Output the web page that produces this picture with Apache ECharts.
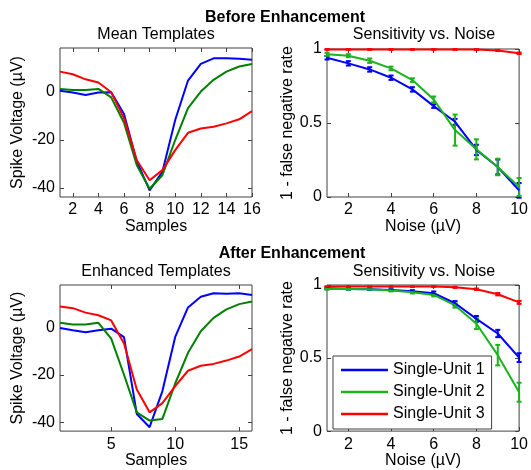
<!DOCTYPE html>
<html>
<head>
<meta charset="utf-8">
<script src="https://cdn.jsdelivr.net/npm/echarts@6/dist/echarts.min.js"></script>
<style>html,body{margin:0;padding:0;background:#fff;}#c{width:531px;height:470px;}</style>
</head>
<body>
<div id="c"></div>
<script>
// ---- data ----
const samples = [1,2,3,4,5,6,7,8,9,10,11,12,13,14,15,16];
const meanU1 = [0.4,-0.4,-1.4,-0.4,-0.3,-9.3,-29,-41,-33.3,-11.8,4.6,11.5,13.8,13.8,13.6,13.2];
const meanU2 = [1.1,0.7,0.7,1.1,-2.4,-12.9,-30.6,-40.3,-34.7,-20.1,-6.9,0,4.9,8.3,10.4,11.5];
const meanU3 = [8.3,7.2,5.1,3.75,-0.3,-11.1,-28.5,-36.8,-32.6,-24.3,-17.1,-15.3,-14.6,-13.2,-11.5,-8.1];
const enhU1 = [-0.1,-1.1,-1.9,-1.1,-0.4,-4,-36.5,-42.1,-26.8,-3.9,8.6,13.1,14.6,14.4,14.6,13.9];
const enhU2 = [2.1,1.4,1.4,2.1,-4.6,-19.9,-35.8,-39.3,-38.6,-23.6,-10.6,-1.5,4.2,7.8,10,11.1];
const enhU3 = [9,8.3,6.4,5.3,3.1,-6.7,-26.1,-35.8,-31.9,-24.7,-18.2,-16.1,-15.3,-13.9,-12.2,-9];

const noise = [1,2,3,4,5,6,7,8,9,10];
const sensU1 = [0.941,0.903,0.862,0.806,0.727,0.614,0.508,0.318,0.203,0.045];
const sensU2 = [0.964,0.955,0.921,0.869,0.79,0.659,0.452,0.322,0.203,0.068];
const sensU3 = [0.997,0.997,0.997,0.997,0.997,0.997,0.997,0.996,0.99,0.971];
const sensErrU1 = [0.012,0.015,0.015,0.015,0.015,0.012,0.02,0.035,0.05,0.05];
const sensErrU2 = [0.01,0.01,0.015,0.012,0.012,0.02,0.105,0.068,0.056,0.06];
const sensErrU3 = [0.003,0.003,0.003,0.003,0.003,0.003,0.003,0.003,0.004,0.005];

const enhSensU1 = [0.977,0.973,0.971,0.966,0.957,0.944,0.875,0.768,0.668,0.503];
const enhSensU2 = [0.973,0.973,0.971,0.962,0.95,0.932,0.86,0.735,0.52,0.266];
const enhSensU3 = [0.989,0.989,0.989,0.989,0.989,0.989,0.984,0.971,0.937,0.881];
const enhErrU1 = [0.005,0.005,0.005,0.006,0.008,0.012,0.015,0.02,0.025,0.03];
const enhErrU2 = [0.005,0.005,0.005,0.006,0.008,0.01,0.015,0.037,0.07,0.065];
const enhErrU3 = [0.002,0.002,0.002,0.002,0.002,0.003,0.004,0.005,0.008,0.01];

const tmplXTicksTop = [2,4,6,8,10,12,14,16];
const tmplXTicksBottom = [5,10,15];
const tmplYTicks = [-40,-20,0];
const noiseXTicks = [2,4,6,8,10];
const rateYTicks = [0,0.5,1];
const unitNames = ['Single-Unit 1','Single-Unit 2','Single-Unit 3'];

// ---- styles ----
const FONT = '"Liberation Sans", Arial, Helvetica, sans-serif';
const BLUE = '#0000ff', DGREEN = '#008000', GREEN = '#1db31d', RED = '#ff0000';
const AX = '#404040';

const grids = [
  {left:60, top:48, width:192, height:149},
  {left:327, top:49, width:195, height:148},
  {left:60, top:285, width:192, height:149},
  {left:327, top:285, width:195, height:148}
].map(g => Object.assign({show:true, borderColor:AX, borderWidth:1, backgroundColor:'#fff'}, g));

function xAx(gi, min, max, ticks, name, pos) {
  const main = pos === 'bottom';
  return {
    type:'value', gridIndex:gi, position:pos, min:min, max:max,
    axisLine:{show:false, onZero:false},
    splitLine:{show:false},
    axisTick:{show:true, inside:true, length:4, customValues:ticks, lineStyle:{color:AX}},
    axisLabel:{show:main, customValues:ticks, color:'#000', fontSize:16, fontFamily:FONT, margin:5},
    name: main ? name : '', nameLocation:'middle', nameGap:20,
    nameTextStyle:{color:'#000', fontSize:16, fontFamily:FONT}
  };
}
function yAx(gi, min, max, ticks, name, pos, gap) {
  const main = pos === 'left';
  return {
    type:'value', gridIndex:gi, position:pos, min:min, max:max,
    axisLine:{show:false, onZero:false},
    splitLine:{show:false},
    axisTick:{show:true, inside:true, length:4, customValues:ticks, lineStyle:{color:AX}},
    axisLabel:{show:main, customValues:ticks, color:'#000', fontSize:16, fontFamily:FONT, margin:5},
    name: main ? name : '', nameLocation:'middle', nameGap:gap,
    nameTextStyle:{color:'#000', fontSize:16, fontFamily:FONT}
  };
}

const xAxes = [
  xAx(0,1,16,tmplXTicksTop,'Samples','bottom'),
  xAx(1,1,10,noiseXTicks,'Noise (\u00b5V)','bottom'),
  xAx(2,1,16,tmplXTicksBottom,'Samples','bottom'),
  xAx(3,1,10,noiseXTicks,'Noise (\u00b5V)','bottom'),
  xAx(0,1,16,tmplXTicksTop,'','top'),
  xAx(1,1,10,noiseXTicks,'','top'),
  xAx(2,1,16,tmplXTicksBottom,'','top'),
  xAx(3,1,10,noiseXTicks,'','top')
];
const yAxes = [
  yAx(0,-43.75,18.1,tmplYTicks,'Spike Voltage (\u00b5V)','left',34),
  yAx(1,0,1,rateYTicks,'1 - false negative rate','left',25),
  yAx(2,-43.75,18.1,tmplYTicks,'Spike Voltage (\u00b5V)','left',34),
  yAx(3,0,1,rateYTicks,'1 - false negative rate','left',25),
  yAx(0,-43.75,18.1,tmplYTicks,'','right',0),
  yAx(1,0,1,rateYTicks,'','right',0),
  yAx(2,-43.75,18.1,tmplYTicks,'','right',0),
  yAx(3,0,1,rateYTicks,'','right',0)
];

function pairs(xs, ys){ return xs.map((x,i)=>[x, ys[i]]); }
function lineSeries(name, gi, xs, ys, color) {
  return {
    type:'line', name:name, xAxisIndex:gi, yAxisIndex:gi,
    data: pairs(xs, ys), symbol:'none', showSymbol:false,
    lineStyle:{color:color, width:2}, itemStyle:{color:color},
    animation:false, z:3
  };
}
function errSeries(name, gi, xs, ys, es, color) {
  return {
    type:'custom', name:name, xAxisIndex:gi, yAxisIndex:gi,
    data: xs.map((x,i)=>[x, ys[i]-es[i], ys[i]+es[i]]),
    encode:{x:0, y:[1,2]},
    animation:false, z:3,
    renderItem: function(params, api){
      const x = api.value(0);
      const a = api.coord([x, api.value(1)]);
      const b = api.coord([x, api.value(2)]);
      const w = 2.5;
      const st = {stroke:color, lineWidth:2};
      return {type:'group', children:[
        {type:'line', shape:{x1:a[0], y1:a[1], x2:b[0], y2:b[1]}, style:st},
        {type:'line', shape:{x1:a[0]-w, y1:a[1], x2:a[0]+w, y2:a[1]}, style:st},
        {type:'line', shape:{x1:b[0]-w, y1:b[1], x2:b[0]+w, y2:b[1]}, style:st}
      ]};
    }
  };
}

const series = [
  // sensitivity plots first so legend colours come from them
  lineSeries(unitNames[0],1,noise,sensU1,BLUE),
  errSeries('e1',1,noise,sensU1,sensErrU1,BLUE),
  lineSeries(unitNames[1],1,noise,sensU2,GREEN),
  errSeries('e2',1,noise,sensU2,sensErrU2,GREEN),
  lineSeries(unitNames[2],1,noise,sensU3,RED),
  errSeries('e3',1,noise,sensU3,sensErrU3,RED),
  lineSeries(unitNames[0],3,noise,enhSensU1,BLUE),
  errSeries('e1',3,noise,enhSensU1,enhErrU1,BLUE),
  lineSeries(unitNames[1],3,noise,enhSensU2,GREEN),
  errSeries('e2',3,noise,enhSensU2,enhErrU2,GREEN),
  lineSeries(unitNames[2],3,noise,enhSensU3,RED),
  errSeries('e3',3,noise,enhSensU3,enhErrU3,RED),
  // templates
  lineSeries('m1',0,samples,meanU1,BLUE),
  lineSeries('m2',0,samples,meanU2,DGREEN),
  lineSeries('m3',0,samples,meanU3,RED),
  lineSeries('t1',2,samples,enhU1,BLUE),
  lineSeries('t2',2,samples,enhU2,DGREEN),
  lineSeries('t3',2,samples,enhU3,RED)
];

function txt(t, x, y, bold) {
  return {type:'text', x:x, y:y, z:10, style:{text:t, fill:'#000', align:'center', verticalAlign:'middle',
    font:(bold?'bold ':'') + '16px ' + FONT}};
}

const option = {
  animation:false,
  backgroundColor:'#fff',
  grid: grids,
  xAxis: xAxes,
  yAxis: yAxes,
  series: series,
  legend: {
    data: unitNames, orient:'vertical', left:333, top:356,
    backgroundColor:'#fff', borderColor:AX, borderWidth:1, borderRadius:0,
    padding:[5,7,6,8], itemGap:4, itemWidth:47, itemHeight:2.5, icon:'rect',
    selectedMode:false,
    textStyle:{color:'#000', fontSize:16, fontFamily:FONT, lineHeight:18}
  },
  graphic: [
    txt('Before Enhancement', 285, 18, true),
    txt('Mean Templates', 156, 35, false),
    txt('Sensitivity vs. Noise', 424, 35, false),
    txt('After Enhancement', 292, 254, true),
    txt('Enhanced Templates', 156, 272, false),
    txt('Sensitivity vs. Noise', 424, 272, false)
  ]
};

const chart = echarts.init(document.getElementById('c'), null, {renderer:'canvas'});
chart.setOption(option);
</script>
</body>
</html>
